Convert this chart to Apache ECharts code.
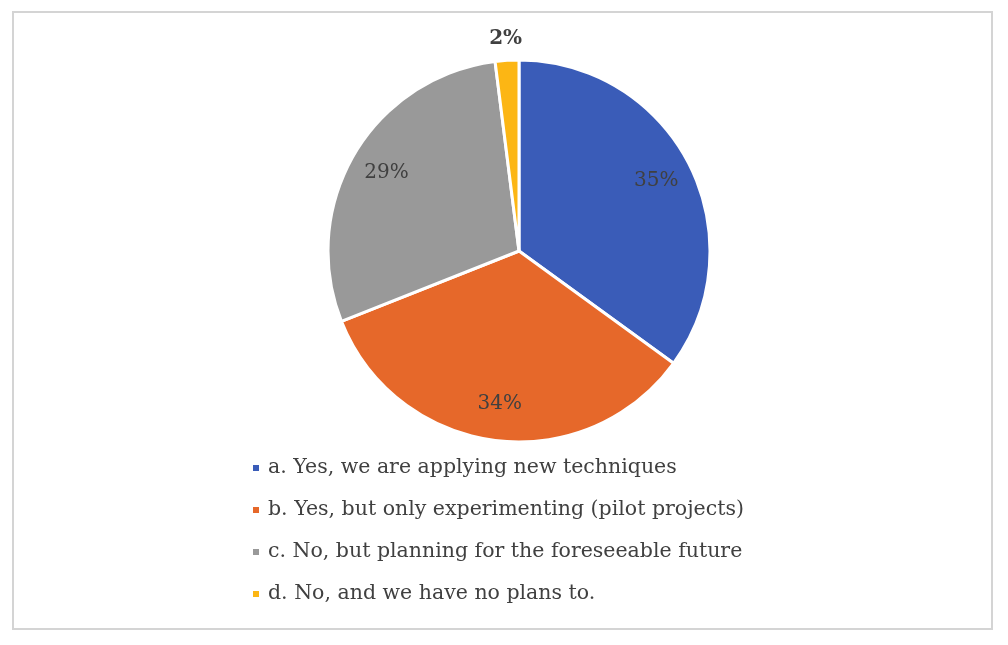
<!DOCTYPE html>
<html>
<head>
<meta charset="utf-8">
<script src="https://cdn.jsdelivr.net/npm/echarts@6/dist/echarts.min.js"></script>
<style>
html,body{margin:0;padding:0;background:#fff;}
#chart{width:1008px;height:645px;}
</style>
</head>
<body>
<div id="chart"></div>
<script>
const categories = [
  'a. Yes, we are applying new techniques',
  'b. Yes, but only experimenting (pilot projects)',
  'c. No, but planning for the foreseeable future',
  'd. No, and we have no plans to.'
];
const values = [35, 34, 29, 2];
const palette = ['#3A5CB8', '#E6682A', '#999999', '#FCB614'];

const FONT = 'DejaVu Serif';
const chart = echarts.init(document.getElementById('chart'));

const mainData = categories.map((name, i) => ({ name, value: values[i] }));
const innerLabelData = categories.map((name, i) => ({
  name, value: values[i],
  label: { show: i < 3 }
}));
const outerLabelData = categories.map((name, i) => ({
  name, value: values[i],
  label: { show: i === 3 }
}));

const labelCommon = {
  position: 'inside',
  formatter: p => Math.round(p.percent) + '%',
  fontFamily: FONT,
  fontSize: 20,
  color: '#404040'
};

chart.setOption({
  animation: false,
  color: palette,
  graphic: [{
    type: 'rect',
    shape: { x: 13, y: 12, width: 979, height: 617 },
    style: { fill: 'none', stroke: '#d4d4d4', lineWidth: 2 },
    silent: true
  }],
  legend: {
    orient: 'vertical',
    left: 246,
    top: 451,
    icon: 'rect',
    itemWidth: 8,
    itemHeight: 8,
    itemGap: 18,
    data: categories,
    textStyle: { fontFamily: FONT, fontSize: 20.5, color: '#404040', lineHeight: 24, padding: [0, 0, 0, 3] }
  },
  series: [
    {
      type: 'pie',
      center: [519, 251],
      radius: [0, 191],
      startAngle: 90,
      clockwise: true,
      data: mainData,
      label: { show: false },
      labelLine: { show: false },
      itemStyle: { borderColor: '#ffffff', borderWidth: 3 },
      emphasis: { disabled: true }
    },
    {
      type: 'pie',
      center: [519, 251],
      radius: [0, 302],
      startAngle: 90,
      clockwise: true,
      silent: true,
      data: innerLabelData,
      itemStyle: { color: 'rgba(0,0,0,0)' },
      label: Object.assign({ show: true }, labelCommon),
      labelLine: { show: false },
      emphasis: { disabled: true },
      z: 5
    },
    {
      type: 'pie',
      center: [519, 251],
      radius: [0, 420],
      startAngle: 90,
      clockwise: true,
      silent: true,
      data: outerLabelData,
      itemStyle: { color: 'rgba(0,0,0,0)' },
      label: Object.assign({ show: true }, labelCommon, { fontWeight: 'bold' }),
      labelLine: { show: false },
      emphasis: { disabled: true },
      z: 5
    }
  ]
});
</script>
</body>
</html>
